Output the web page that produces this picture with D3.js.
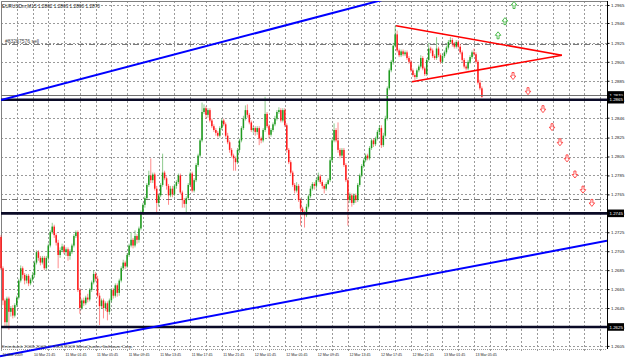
<!DOCTYPE html>
<html>
<head>
<meta charset="utf-8">
<title>EURUSDm,M15</title>
<script src="https://cdnjs.cloudflare.com/ajax/libs/d3/7.8.5/d3.min.js"></script>
<style>
  body { margin: 0; background: #fff; }
  svg { display: block; font-family: "Liberation Sans", Arial, sans-serif; }
</style>
</head>
<body>
<svg id="chart" width="625" height="359"></svg>
<script>
// ---- data ----
const symbolTitle = "EURUSDm,M15  1.2862 1.2863 1.2860 1.2870";
const copyright = "Enterbank 2008-2009, \u00a9 2001-2009 MetaQuotes Software Corp.";

const firstOpen = 1.2720;
const close = [
  1.2687,1.2653,1.2630,1.2655,1.2641,1.2645,1.2637,1.2648,1.2656,1.2674,
  1.2687,1.2680,1.2674,1.2679,1.2671,1.2675,1.2680,1.2693,1.2704,1.2698,
  1.2693,1.2698,1.2687,1.2698,1.2711,1.2725,1.2731,1.2722,1.2714,1.2701,
  1.2706,1.2710,1.2704,1.2707,1.2700,1.2704,1.2711,1.2721,1.2725,1.2664,
  1.2645,1.2653,1.2650,1.2656,1.2654,1.2664,1.2672,1.2681,1.2676,1.2658,
  1.2647,1.2653,1.2645,1.2650,1.2641,1.2653,1.2664,1.2658,1.2669,1.2661,
  1.2674,1.2687,1.2693,1.2689,1.2701,1.2711,1.2717,1.2711,1.2721,1.2717,
  1.2729,1.2746,1.2754,1.2761,1.2775,1.2785,1.2780,1.2786,1.2771,1.2756,
  1.2764,1.2775,1.2788,1.2782,1.2774,1.2764,1.2771,1.2765,1.2774,1.2778,
  1.2785,1.2767,1.2759,1.2755,1.2761,1.2775,1.2787,1.2769,1.2780,1.2796,
  1.2806,1.2822,1.2852,1.2856,1.2849,1.2854,1.2843,1.2837,1.2833,1.2830,
  1.2827,1.2835,1.2843,1.2839,1.2827,1.2820,1.2812,1.2806,1.2803,1.2799,
  1.2812,1.2822,1.2835,1.2845,1.2854,1.2849,1.2841,1.2833,1.2835,1.2831,
  1.2835,1.2824,1.2822,1.2833,1.2850,1.2837,1.2828,1.2833,1.2839,1.2845,
  1.2852,1.2854,1.2843,1.2854,1.2838,1.2812,1.2799,1.2788,1.2775,1.2769,
  1.2774,1.2759,1.2750,1.2746,1.2743,1.2752,1.2763,1.2771,1.2776,1.2774,
  1.2780,1.2784,1.2778,1.2774,1.2771,1.2776,1.2780,1.2801,1.2822,1.2833,
  1.2822,1.2812,1.2806,1.2812,1.2796,1.2780,1.2759,1.2764,1.2756,1.2764,
  1.2759,1.2775,1.2785,1.2795,1.2801,1.2806,1.2803,1.2814,1.2822,1.2818,
  1.2824,1.2831,1.2835,1.2817,1.2827,1.2845,1.2877,1.2896,1.2905,1.2922,
  1.2934,1.2917,1.2912,1.2916,1.2913,1.2915,1.2909,1.2905,1.2896,1.2891,
  1.2889,1.2896,1.2900,1.2909,1.2898,1.2892,1.2907,1.2919,1.2917,1.2911,
  1.2909,1.2919,1.2912,1.2905,1.2911,1.2915,1.2920,1.2926,1.2928,1.2924,
  1.2921,1.2926,1.2921,1.2915,1.2907,1.2900,1.2898,1.2905,1.2910,1.2915,
  1.2913,1.2905,1.2883,1.2877,1.2868
];
const high = [
  1.2722,1.2689,1.2655,1.2657,1.2657,1.2647,1.2648,1.2650,1.2658,1.2676,
  1.2690,1.2689,1.2682,1.2681,1.2681,1.2677,1.2683,1.2695,1.2706,1.2706,
  1.2700,1.2700,1.2700,1.2700,1.2713,1.2727,1.2735,1.2733,1.2724,1.2717,
  1.2709,1.2713,1.2712,1.2709,1.2709,1.2707,1.2713,1.2723,1.2727,1.2727,
  1.2666,1.2655,1.2656,1.2658,1.2660,1.2666,1.2674,1.2685,1.2683,1.2679,
  1.2661,1.2655,1.2655,1.2652,1.2652,1.2655,1.2666,1.2666,1.2671,1.2671,
  1.2676,1.2689,1.2696,1.2695,1.2703,1.2713,1.2725,1.2719,1.2727,1.2723,
  1.2731,1.2748,1.2756,1.2763,1.2777,1.2790,1.2803,1.2788,1.2788,1.2774,
  1.2766,1.2777,1.2808,1.2790,1.2784,1.2776,1.2774,1.2774,1.2776,1.2780,
  1.2787,1.2787,1.2769,1.2761,1.2763,1.2777,1.2789,1.2789,1.2782,1.2798,
  1.2808,1.2824,1.2862,1.2860,1.2858,1.2856,1.2856,1.2845,1.2839,1.2835,
  1.2832,1.2837,1.2845,1.2845,1.2841,1.2830,1.2822,1.2814,1.2808,1.2805,
  1.2814,1.2824,1.2837,1.2848,1.2859,1.2860,1.2851,1.2843,1.2837,1.2837,
  1.2837,1.2837,1.2826,1.2835,1.2868,1.2852,1.2839,1.2835,1.2841,1.2848,
  1.2854,1.2857,1.2856,1.2856,1.2856,1.2840,1.2814,1.2801,1.2790,1.2777,
  1.2778,1.2776,1.2761,1.2752,1.2748,1.2755,1.2765,1.2774,1.2778,1.2778,
  1.2782,1.2788,1.2786,1.2780,1.2776,1.2778,1.2782,1.2803,1.2824,1.2840,
  1.2835,1.2841,1.2814,1.2814,1.2814,1.2798,1.2782,1.2767,1.2766,1.2766,
  1.2766,1.2777,1.2787,1.2797,1.2803,1.2808,1.2808,1.2816,1.2824,1.2824,
  1.2826,1.2833,1.2838,1.2838,1.2830,1.2848,1.2879,1.2898,1.2907,1.2925,
  1.2943,1.2938,1.2919,1.2918,1.2918,1.2917,1.2917,1.2911,1.2907,1.2898,
  1.2893,1.2898,1.2902,1.2912,1.2911,1.2900,1.2909,1.2925,1.2921,1.2919,
  1.2913,1.2931,1.2921,1.2914,1.2913,1.2917,1.2922,1.2928,1.2931,1.2930,
  1.2926,1.2928,1.2928,1.2924,1.2917,1.2909,1.2902,1.2907,1.2912,1.2917,
  1.2919,1.2915,1.2907,1.2886,1.2879
];
const low = [
  1.2685,1.2648,1.2624,1.2626,1.2622,1.2636,1.2634,1.2635,1.2646,1.2654,
  1.2672,1.2676,1.2670,1.2671,1.2668,1.2669,1.2673,1.2677,1.2691,1.2695,
  1.2690,1.2691,1.2685,1.2685,1.2695,1.2709,1.2723,1.2719,1.2711,1.2687,
  1.2698,1.2704,1.2702,1.2700,1.2695,1.2696,1.2702,1.2709,1.2719,1.2662,
  1.2639,1.2643,1.2647,1.2648,1.2651,1.2652,1.2662,1.2670,1.2673,1.2656,
  1.2627,1.2644,1.2634,1.2642,1.2632,1.2638,1.2651,1.2655,1.2656,1.2657,
  1.2658,1.2672,1.2685,1.2686,1.2687,1.2699,1.2709,1.2708,1.2709,1.2713,
  1.2714,1.2727,1.2744,1.2751,1.2759,1.2773,1.2777,1.2777,1.2769,1.2746,
  1.2752,1.2762,1.2773,1.2780,1.2770,1.2754,1.2762,1.2762,1.2763,1.2771,
  1.2776,1.2765,1.2751,1.2751,1.2746,1.2759,1.2773,1.2767,1.2767,1.2778,
  1.2794,1.2804,1.2820,1.2850,1.2845,1.2846,1.2841,1.2835,1.2831,1.2827,
  1.2825,1.2825,1.2833,1.2837,1.2825,1.2818,1.2809,1.2804,1.2790,1.2790,
  1.2797,1.2809,1.2820,1.2833,1.2843,1.2846,1.2839,1.2831,1.2830,1.2827,
  1.2828,1.2817,1.2819,1.2820,1.2831,1.2835,1.2824,1.2826,1.2831,1.2837,
  1.2843,1.2850,1.2841,1.2841,1.2836,1.2809,1.2797,1.2786,1.2773,1.2766,
  1.2767,1.2757,1.2732,1.2743,1.2730,1.2741,1.2750,1.2761,1.2769,1.2770,
  1.2771,1.2778,1.2776,1.2771,1.2766,1.2769,1.2775,1.2778,1.2799,1.2820,
  1.2820,1.2809,1.2803,1.2804,1.2794,1.2778,1.2732,1.2756,1.2752,1.2754,
  1.2756,1.2757,1.2773,1.2783,1.2793,1.2799,1.2801,1.2801,1.2812,1.2815,
  1.2816,1.2822,1.2828,1.2814,1.2815,1.2825,1.2843,1.2875,1.2894,1.2902,
  1.2920,1.2915,1.2910,1.2910,1.2911,1.2911,1.2907,1.2903,1.2894,1.2889,
  1.2886,1.2887,1.2894,1.2898,1.2896,1.2890,1.2890,1.2905,1.2914,1.2909,
  1.2907,1.2907,1.2910,1.2903,1.2903,1.2909,1.2913,1.2918,1.2924,1.2921,
  1.2919,1.2919,1.2919,1.2913,1.2905,1.2898,1.2896,1.2896,1.2903,1.2908,
  1.2911,1.2903,1.2881,1.2875,1.2867
];

const timeTicks = [0, 16, 32, 48, 64, 80, 96, 112, 128, 144, 160, 176, 192, 208, 224, 240];
const timeLabels = ["10 Mar 2009", "10 Mar 21:45", "11 Mar 01:45", "11 Mar 05:45",
  "11 Mar 09:45", "11 Mar 13:45", "11 Mar 17:45", "11 Mar 21:45", "12 Mar 01:45",
  "12 Mar 05:45", "12 Mar 09:45", "12 Mar 13:45", "12 Mar 17:45", "12 Mar 21:45",
  "13 Mar 01:45", "13 Mar 05:45"];
const priceTicks = [1.2965, 1.2946, 1.2925, 1.2905, 1.2885, 1.2865, 1.2846, 1.2825, 1.2805,
  1.2785, 1.2765, 1.2745, 1.2725, 1.2705, 1.2685, 1.2665, 1.2645, 1.2625, 1.2605];

// horizontal objects
const levelPrices = [1.2865, 1.2745, 1.2625];
const bidPrice = 1.2870;
const orderPrice = 1.2924;
const orderLabel = "#83287576 sell";
const targetPrice = 1.2760;

// trend lines: [bar, price] anchors
const upperChannel = [[0.5, 1.2865], [189.2, 1.2968]];
const lowerChannel = [[-0.5, 1.2594], [307.5, 1.2716]];
const triangleTop = [[200.4, 1.2943], [284.6, 1.2912]];
const triangleBottom = [[208.5, 1.2884], [284.6, 1.2912]];

// forecast arrows
const upArrowBars = [252.2, 255.7, 260.3];
const upArrowPrices = [1.2933, 1.2948, 1.2965];
const downArrowBars = [259.8, 267.4, 275.0, 279.6, 283.6, 287.2, 291.2, 295.3, 299.8];
const downArrowPrices = [1.2890, 1.2874, 1.2855, 1.2836, 1.2820, 1.2803, 1.2786, 1.2770, 1.2756];

// ---- chart ----
const svg = d3.select("#chart");
const plotRight = 607, plotBottom = 349;

const x = d3.scaleLinear().domain([0, 244]).range([1, 481.9]);
const y = d3.scaleLinear().domain([1.2605, 1.2965]).range([345.9, 5]);
const crisp = v => Math.round(v) + 0.5;

svg.append("rect").attr("width", 625).attr("height", 359).attr("fill", "#fff");

const defs = svg.append("defs");
defs.append("clipPath").attr("id", "plot")
  .append("rect").attr("x", 1).attr("y", 1).attr("width", plotRight - 1).attr("height", plotBottom - 1);
defs.append("clipPath").attr("id", "whole")
  .append("rect").attr("x", 0).attr("y", 0).attr("width", plotRight).attr("height", 359);

// grid
const gridBars = d3.range(0, 305, 8);
svg.append("g").selectAll("line").data(gridBars).join("line")
  .attr("x1", d => crisp(x(d))).attr("x2", d => crisp(x(d)))
  .attr("y1", 1).attr("y2", plotBottom + 3)
  .attr("stroke", "#9a9a9a").attr("stroke-dasharray", "2,2");

svg.append("g").selectAll("line").data(priceTicks).join("line")
  .attr("x1", 1).attr("x2", plotRight)
  .attr("y1", d => crisp(y(d))).attr("y2", d => crisp(y(d)))
  .attr("stroke", "#9a9a9a").attr("stroke-dasharray", "2,2");

// frame
svg.append("path")
  .attr("d", `M1.5,${plotBottom}V1.5H${plotRight}`)
  .attr("fill", "none").attr("stroke", "#808080");
svg.append("line")
  .attr("x1", 1).attr("x2", plotRight).attr("y1", plotBottom + 0.5).attr("y2", plotBottom + 0.5)
  .attr("stroke", "#9a9a9a").attr("stroke-dasharray", "1,1");
svg.append("line")
  .attr("x1", plotRight + 0.5).attr("x2", plotRight + 0.5).attr("y1", 1).attr("y2", plotBottom)
  .attr("stroke", "#000");

// order and target lines
svg.append("g").selectAll("line").data([orderPrice, targetPrice]).join("line")
  .attr("x1", 1).attr("x2", plotRight)
  .attr("y1", d => crisp(y(d))).attr("y2", d => crisp(y(d)))
  .attr("stroke", "#7a7a7a").attr("stroke-dasharray", "6,2,1,2");

svg.append("text")
  .attr("x", 5).attr("y", crisp(y(orderPrice)) - 2)
  .attr("font-size", 5).attr("fill", "#444")
  .text(orderLabel);

// candles
const bars = close.map((c, i) => ({
  i, o: i ? close[i - 1] : firstOpen, h: high[i], l: low[i], c
}));
const upColor = "#1f9a1f", downColor = "#ff1a1a";
const colorOf = d => d.c >= d.o ? upColor : downColor;

const candles = svg.append("g");
candles.selectAll("line").data(bars).join("line")
  .attr("x1", d => x(d.i)).attr("x2", d => x(d.i))
  .attr("y1", d => y(d.h)).attr("y2", d => y(d.l))
  .attr("stroke", colorOf).attr("stroke-opacity", 0.5).attr("stroke-width", 1);
candles.selectAll("rect").data(bars).join("rect")
  .attr("x", d => x(d.i) - 0.75).attr("width", 1.5)
  .attr("y", d => y(Math.max(d.o, d.c)))
  .attr("height", d => Math.max(1, Math.abs(y(d.o) - y(d.c))))
  .attr("fill", colorOf);

// horizontal levels
svg.append("line")
  .attr("x1", 1).attr("x2", plotRight)
  .attr("y1", crisp(y(bidPrice))).attr("y2", crisp(y(bidPrice)))
  .attr("stroke", "#707070");
svg.append("g").selectAll("line").data(levelPrices).join("line")
  .attr("x1", 1).attr("x2", plotRight)
  .attr("y1", d => y(d)).attr("y2", d => y(d))
  .attr("stroke", "#0a0a26").attr("stroke-width", 2.6);

// trend lines
function extended(pts, x0, x1) {
  const [[b0, p0], [b1, p1]] = pts;
  const px0 = x(b0), py0 = y(p0), px1 = x(b1), py1 = y(p1);
  const k = (py1 - py0) / (px1 - px0);
  return [[x0, py0 + (x0 - px0) * k], [x1, py0 + (x1 - px0) * k]];
}
const line = d3.line();
svg.append("path")
  .attr("clip-path", "url(#plot)")
  .attr("d", line(extended(upperChannel, 1, plotRight)))
  .attr("stroke", "#0000ff").attr("stroke-width", 2).attr("fill", "none");
svg.append("path")
  .attr("clip-path", "url(#whole)")
  .attr("d", line(extended(lowerChannel, 0, plotRight)))
  .attr("stroke", "#0000ff").attr("stroke-width", 2).attr("fill", "none");

svg.append("g").selectAll("path").data([triangleTop, triangleBottom]).join("path")
  .attr("d", d => line(d.map(([b, p]) => [x(b), y(p)])))
  .attr("stroke", "#ff0000").attr("stroke-width", 1.6).attr("fill", "none");

// forecast arrows
const downShape = "M-1,-3.5H1V0H2.8L0,3.5L-2.8,0H-1Z";
const upShape = "M-1,3.5H1V0H2.8L0,-3.5L-2.8,0H-1Z";
svg.append("g").selectAll("path").data(upArrowBars).join("path")
  .attr("transform", (d, i) => `translate(${x(d)},${y(upArrowPrices[i])})`)
  .attr("d", upShape).attr("fill", "#fff").attr("stroke", "#3cb43c").attr("stroke-width", 0.9);
svg.append("g").selectAll("path").data(downArrowBars).join("path")
  .attr("transform", (d, i) => `translate(${x(d)},${y(downArrowPrices[i])})`)
  .attr("d", downShape).attr("fill", "#fff").attr("stroke", "#ff3c3c").attr("stroke-width", 0.9);

// price axis
const yAxis = svg.append("g")
  .attr("transform", `translate(${plotRight + 0.5},0)`)
  .call(d3.axisRight(y).tickValues(priceTicks).tickSize(2).tickPadding(1.5)
    .tickFormat(d3.format(".4f")));
yAxis.select(".domain").remove();
yAxis.selectAll("text").attr("font-size", 4.4).attr("fill", "#222")
  .attr("font-family", "Liberation Sans, Arial, sans-serif");
yAxis.selectAll("line").attr("stroke", "#000");

// level tags on price axis
const tags = [{ p: bidPrice }, ...levelPrices.map(p => ({ p }))];
const tagG = svg.append("g").selectAll("g").data(tags).join("g")
  .attr("transform", d => `translate(${plotRight + 1},${y(d.p)})`);
tagG.append("rect").attr("x", 0).attr("y", -3.8).attr("width", 16).attr("height", 7.6).attr("fill", "#000");
tagG.append("text").attr("x", 1.5).attr("y", 1.6)
  .attr("font-size", 4.4).attr("fill", "#fff")
  .text(d => d3.format(".4f")(d.p));

// time axis
const xAxis = svg.append("g")
  .attr("transform", `translate(0,${plotBottom})`)
  .call(d3.axisBottom(x).tickValues(timeTicks).tickSize(0).tickPadding(0)
    .tickFormat((d, i) => timeLabels[i]));
xAxis.select(".domain").remove();
xAxis.selectAll("text")
  .attr("text-anchor", "start").attr("dx", 1).attr("dy", 0).attr("y", 7)
  .attr("font-size", 3.6).attr("fill", "#222")
  .attr("font-family", "Liberation Sans, Arial, sans-serif");

// title and copyright
svg.append("text")
  .attr("x", 2).attr("y", 7.5).attr("font-size", 5.2).attr("fill", "#222")
  .attr("textLength", 98).attr("lengthAdjust", "spacingAndGlyphs")
  .text(symbolTitle);
svg.append("text")
  .attr("x", 2).attr("y", 347.5).attr("font-size", 4.4).attr("fill", "#444")
  .attr("textLength", 131).attr("lengthAdjust", "spacingAndGlyphs")
  .text(copyright);
</script>
</body>
</html>
